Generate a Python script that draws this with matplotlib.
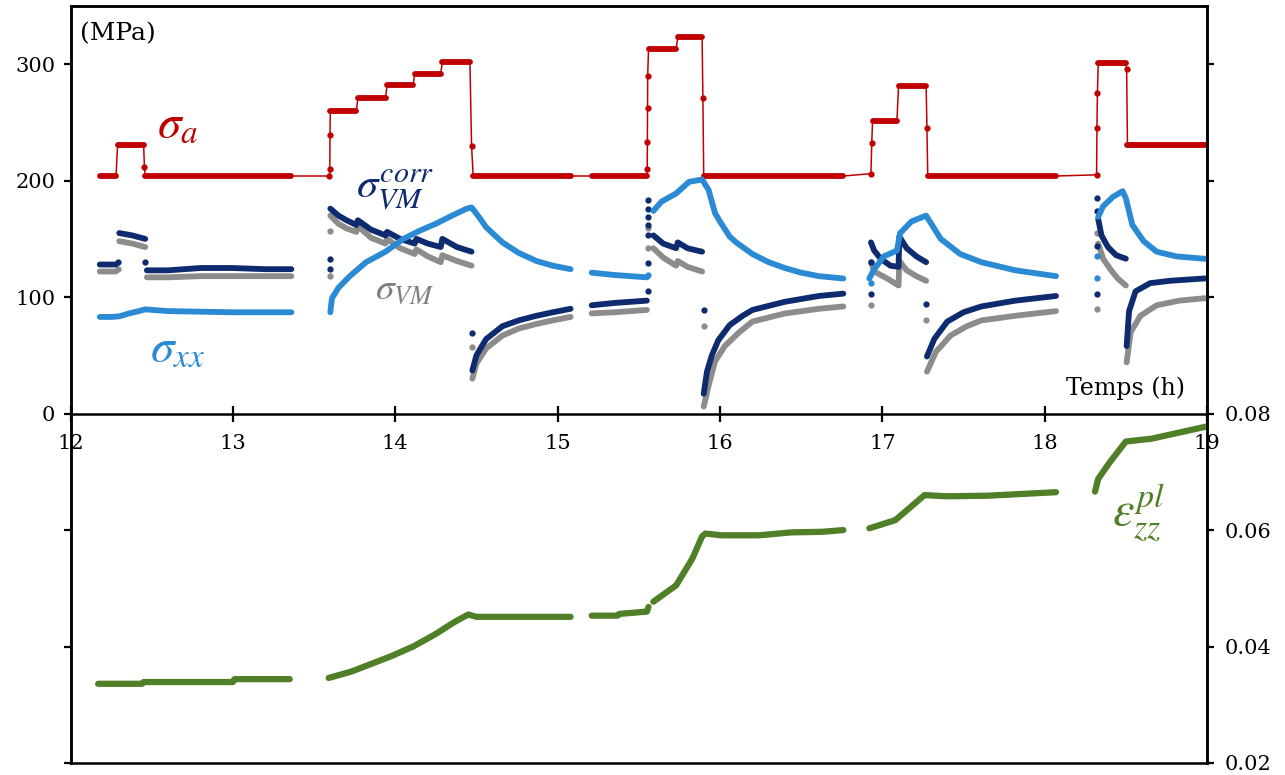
import numpy as np
import matplotlib.pyplot as plt

plt.rcParams['font.family'] = ['DejaVu Serif', 'DejaVu Sans']
plt.rcParams['mathtext.fontset'] = 'stix'

nan = np.nan

# applied stress sigma_a : plateaus (start, end, level) and transition dots
sa_start = [12.18, 12.29, 12.46, 13.60, 13.77, 13.95, 14.12, 14.29, 14.48, 15.21, 15.56, 15.74, 15.90, 16.94, 17.10, 17.28, 18.33, 18.51]
sa_end = [12.28, 12.45, 13.36, 13.76, 13.94, 14.11, 14.28, 14.46, 15.08, 15.55, 15.73, 15.89, 16.76, 17.09, 17.27, 18.07, 18.50, 19.00]
sa_level = [204, 231, 204, 260, 271, 282, 292, 302, 204, 204, 313, 323, 204, 251, 281, 204, 301, 231]
sa_jump_t = [12.455, 13.595, 13.597, 13.598, 14.47, 15.552, 15.553, 15.554, 15.555, 15.895, 16.93, 16.935, 17.275, 18.32, 18.322, 18.325, 18.505]
sa_jump_v = [212, 204, 210, 239, 230, 210, 233, 262, 290, 271, 206, 232, 245, 205, 245, 275, 296]

# sigma_xx
sxx_t = [12.18, 12.25, 12.30, 12.36, 12.42, 12.46, 12.6, 12.8, 13.0, 13.2, 13.36, nan,
         13.60, 13.61, 13.65, 13.72, 13.82, 13.94, 14.05, 14.15, 14.25, 14.35, 14.44, 14.47,
         14.52, 14.56, 14.66, 14.76, 14.87, 14.97, 15.08, nan,
         15.21, 15.35, 15.55, nan,
         15.59, 15.64, 15.73, 15.81, 15.89, 15.93, 15.97, 16.0, 16.06, 16.1, 16.2, 16.3, 16.4,
         16.5, 16.61, 16.76, nan,
         16.92, 16.95, 17.01, 17.09, 17.11, 17.18, 17.27, 17.36, 17.48, 17.61, 17.82, 18.07, nan,
         18.33, 18.36, 18.42, 18.48, 18.50, 18.54, 18.61, 18.69, 18.81, 18.98, 19.0]
sxx_v = [83, 83, 83.5, 86, 88, 89.5, 88, 87.5, 87, 87, 87, nan,
         87, 99, 108, 118, 130, 139, 150, 157, 163, 170, 176, 177,
         168, 160, 147, 138, 131, 127, 124, nan,
         121, 119, 117, nan,
         174, 182, 189, 199, 201, 192, 172, 165, 152, 147, 137, 130, 125,
         121, 118, 116, nan,
         116, 124, 135, 140, 155, 165, 170, 150, 137, 130, 123, 118, nan,
         169, 178, 186, 191, 185, 162, 148, 139, 135, 133, 133]
sxx_dot_t = [15.555, 18.32, 18.32, 16.93]
sxx_dot_v = [119, 135, 116, 112]

# sigma_VM^corr
svc_t = [12.18, 12.28, nan, 12.30, 12.38, 12.46, nan, 12.47, 12.6, 12.8, 13.0, 13.2, 13.36, nan,
         13.60, 13.65, 13.70, 13.76, 13.77, 13.85, 13.94, 13.95, 14.03, 14.12, 14.13, 14.20, 14.28,
         14.29, 14.38, 14.47, nan,
         14.475, 14.50, 14.56, 14.66, 14.76, 14.87, 14.97, 15.08, nan,
         15.21, 15.35, 15.55, nan,
         15.59, 15.65, 15.73, 15.74, 15.80, 15.89, nan,
         15.90, 15.92, 15.95, 15.99, 16.06, 16.14, 16.2, 16.4, 16.61, 16.76, nan,
         16.93, 16.95, 16.99, 17.05, 17.10, 17.105, 17.15, 17.21, 17.27, nan,
         17.275, 17.32, 17.40, 17.50, 17.61, 17.82, 18.07, nan,
         18.33, 18.35, 18.39, 18.44, 18.50, nan,
         18.505, 18.52, 18.56, 18.65, 18.77, 18.98, 19.0]
svc_v = [128, 128, nan, 155, 153, 150, nan, 123, 123, 125, 125, 124, 124, nan,
         176, 170, 166, 162, 166, 158, 153, 156, 150, 146, 150, 146, 143,
         150, 143, 139, nan,
         37, 50, 64, 75, 80, 84, 87, 90, nan,
         93, 95, 97, nan,
         153, 146, 142, 147, 142, 139, nan,
         17, 36, 50, 63, 76, 84, 89, 96, 101, 103, nan,
         147, 140, 133, 127, 126, 152, 142, 135, 130, nan,
         49, 64, 79, 87, 92, 97, 101, nan,
         167, 153, 143, 136, 133, nan,
         58, 88, 105, 112, 114, 116, 116]
svc_dot_t = [12.29, 12.46, 13.60, 13.60, 14.47, 15.555, 15.555, 15.555, 15.555, 15.555, 15.555, 15.555,
             15.90, 16.93, 16.93, 17.27, 18.32, 18.32, 18.32, 18.32]
svc_dot_v = [130, 130, 124, 133, 69, 105, 129, 153, 162, 169, 176, 183,
             89, 103, 130, 94, 185, 174, 144, 103]

# sigma_VM
svm_t = [12.18, 12.28, nan, 12.30, 12.38, 12.46, nan, 12.47, 12.6, 12.8, 13.0, 13.2, 13.36, nan,
         13.60, 13.65, 13.70, 13.76, 13.77, 13.85, 13.94, 13.95, 14.03, 14.12, 14.13, 14.20, 14.28,
         14.29, 14.38, 14.47, nan,
         14.475, 14.50, 14.56, 14.66, 14.76, 14.87, 14.97, 15.08, nan,
         15.21, 15.35, 15.55, nan,
         15.59, 15.65, 15.73, 15.74, 15.80, 15.89, nan,
         15.90, 15.93, 15.97, 16.03, 16.12, 16.2, 16.4, 16.61, 16.76, nan,
         16.93, 16.95, 17.03, 17.10, 17.105, 17.15, 17.21, 17.27, nan,
         17.275, 17.33, 17.42, 17.52, 17.61, 17.82, 18.07, nan,
         18.33, 18.36, 18.41, 18.45, 18.50, nan,
         18.505, 18.53, 18.59, 18.69, 18.83, 18.98, 19.0]
svm_v = [122, 122, nan, 148, 146, 143, nan, 117, 117, 118, 118, 118, 118, nan,
         170, 163, 159, 156, 161, 151, 146, 150, 142, 137, 141, 135, 130,
         136, 131, 127, nan,
         30, 43, 56, 67, 73, 77, 80, 83, nan,
         86, 87, 89, nan,
         142, 134, 127, 131, 126, 122, nan,
         6, 24, 45, 58, 70, 79, 86, 90, 92, nan,
         130, 122, 116, 110, 131, 123, 118, 114, nan,
         36, 53, 67, 75, 80, 84, 88, nan,
         146, 133, 123, 116, 110, nan,
         44, 70, 84, 93, 97, 99, 99]
svm_dot_t = [12.29, 13.60, 13.60, 14.47, 15.555, 15.555, 15.90, 16.93, 17.27, 18.32, 18.32]
svm_dot_v = [124, 118, 157, 57, 142, 159, 75, 93, 80, 90, 155]

# plastic strain eps_zz^pl (right axis)
eps_t = [12.17, 12.44, 12.45, 13.0, 13.01, 13.35, nan,
         13.59, 13.73, 13.86, 13.98, 14.11, 14.24, 14.37, 14.45, 14.5, 15.08, nan,
         15.21, 15.37, 15.38, 15.55, 15.56, nan,
         15.59, 15.61, 15.73, 15.83, 15.89, 15.91, 16.01, 16.24, 16.44, 16.63, 16.76, nan,
         16.92, 17.08, 17.26, 17.4, 17.65, 18.07, nan,
         18.31, 18.33, 18.4, 18.5, 18.66, 19.0]
eps_v = [0.0336, 0.0336, 0.0339, 0.0339, 0.0344, 0.0344, nan,
         0.0346, 0.0357, 0.0371, 0.0384, 0.0400, 0.0420, 0.0443, 0.0455, 0.0451, 0.0451, nan,
         0.0453, 0.0453, 0.0456, 0.0460, 0.0468, nan,
         0.0477, 0.0481, 0.0505, 0.0551, 0.0589, 0.0594, 0.0591, 0.0591, 0.0596, 0.0597, 0.0600, nan,
         0.0603, 0.0617, 0.0660, 0.0658, 0.0659, 0.0665, nan,
         0.0666, 0.0688, 0.0716, 0.0752, 0.0757, 0.0778]

x_ticks = [12, 13, 14, 15, 16, 17, 18, 19]
left_ticks = [-300, -200, -100, 0, 100, 200, 300]
right_ticks = [0.02, 0.04, 0.06, 0.08, 0.10, 0.12, 0.14]

red = '#C00000'
navy = '#0D2B6E'
gray = '#8C8C8C'
blue = '#2A8AD4'
green = '#4F7F26'

fig = plt.figure(figsize=(12.85, 7.75), dpi=100)
ax = fig.add_axes([0.0549, 0.0155, 0.8844, 0.9768])
ax2 = ax.twinx()

# red applied stress: thin line through everything, thick on plateaus
pts = []
for s, e, l in zip(sa_start, sa_end, sa_level):
    pts.append((s, l))
    pts.append((e, l))
pts += list(zip(sa_jump_t, sa_jump_v))
pts.sort(key=lambda p: p[0])
ax.plot([p[0] for p in pts], [p[1] for p in pts], color=red, lw=1.1, zorder=2)
for s, e, l in zip(sa_start, sa_end, sa_level):
    ax.plot([s, e], [l, l], color=red, lw=4.2, solid_capstyle='round', zorder=3)
ax.plot(sa_jump_t, sa_jump_v, 'o', color=red, ms=3.5, zorder=3)

ax.plot(svm_t, svm_v, color=gray, lw=4.2, solid_capstyle='round', zorder=3)
ax.plot(svm_dot_t, svm_dot_v, 'o', color=gray, ms=3.5, zorder=3)
ax.plot(svc_t, svc_v, color=navy, lw=4.2, solid_capstyle='round', zorder=4)
ax.plot(svc_dot_t, svc_dot_v, 'o', color=navy, ms=3.5, zorder=4)
ax.plot(sxx_t, sxx_v, color=blue, lw=4.2, solid_capstyle='round', zorder=5)
ax.plot(sxx_dot_t, sxx_dot_v, 'o', color=blue, ms=3.5, zorder=5)

ax2.plot(eps_t, eps_v, color=green, lw=4.5, solid_capstyle='round')

ax.set_xlim(12, 19)
ax.set_ylim(-300, 350)
ax2.set_ylim(0.02, 0.15)

ax.spines['bottom'].set_position(('data', 0))
for a in (ax, ax2):
    for sp in a.spines.values():
        sp.set_linewidth(1.8)

ax.set_xticks(x_ticks)
ax.set_xticklabels([str(v) for v in x_ticks])
ax.tick_params(axis='x', direction='inout', length=12, width=1.6, pad=9, labelsize=15)
ax.set_yticks(left_ticks)
ax.set_yticklabels([str(v) if v >= 0 else '' for v in left_ticks])
ax.tick_params(axis='y', direction='out', length=5, width=1.6, labelsize=15, pad=6)
ax2.set_yticks(right_ticks)
ax2.set_yticklabels(['%.2f' % v if v <= 0.081 else '' for v in right_ticks])
ax2.tick_params(axis='y', direction='out', length=5, width=1.6, labelsize=15, pad=8)

ax.text(12.29, 326, '(MPa)', fontsize=18, ha='center', va='center')
ax.text(18.5, 22, 'Temps (h)', fontsize=17, ha='center', va='center')
ax.text(12.66, 249, r'$\sigma_a$', color=red, fontsize=34, ha='center', va='center')
ax.text(14.0, 192, r'$\sigma_{VM}^{corr}$', color=navy, fontsize=31, ha='center', va='center')
ax.text(14.06, 107, r'$\sigma_{VM}$', color='#7F7F7F', fontsize=27, ha='center', va='center')
ax.text(12.66, 56, r'$\sigma_{xx}$', color=blue, fontsize=34, ha='center', va='center')
ax2.text(18.58, 0.0630, r'$\varepsilon_{zz}^{pl}$', color=green, fontsize=35, ha='center', va='center')

fig.savefig('out.png', dpi=100)
